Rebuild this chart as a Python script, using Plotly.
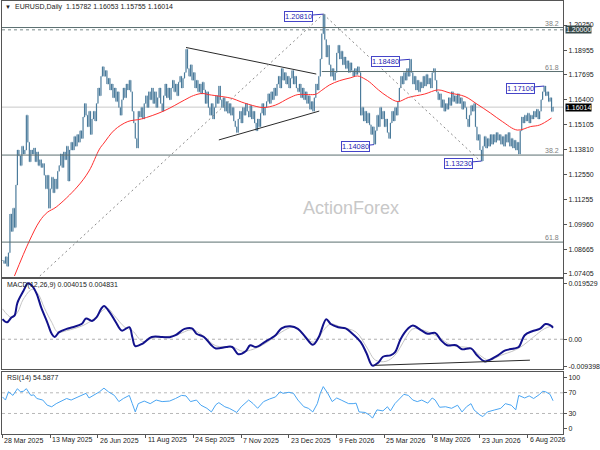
import plotly.graph_objects as go
from plotly.subplots import make_subplots

# daily closes in 1/10000 units, bar 0 = 28 Mar 2025
closes_pips = [
    10810, 10795, 10830, 10780, 10850, 11050, 10960, 11080, 10980, 11200,
    11380, 11350, 11300, 11400, 11360, 11380, 11560, 11420, 11320, 11380,
    11360, 11390, 11320, 11370, 11300, 11330, 11290, 11310, 11250, 11180,
    11250, 11080, 11180, 11240, 11160, 11230, 11180, 11270, 11300, 11360,
    11290, 11370, 11330, 11400, 11220, 11380, 11420, 11380, 11450, 11400,
    11460, 11420, 11480, 11440, 11550, 11620, 11560, 11500, 11580, 11460,
    11540, 11580, 11530, 11620, 11700, 11660, 11760, 11810, 11760, 11790,
    11720, 11750, 11690, 11720, 11650, 11700, 11630, 11680, 11600, 11560,
    11640, 11700, 11650, 11720, 11690, 11740, 11680, 11580, 11520, 11440,
    11390, 11580, 11550, 11600, 11540, 11620, 11660, 11600, 11680, 11640,
    11700, 11620, 11680, 11600, 11650, 11700, 11620, 11580, 11660, 11720,
    11650, 11700, 11640, 11700, 11740, 11680, 11720, 11660, 11730, 11760,
    11700, 11750, 11780, 11900, 11800, 11760, 11820, 11740, 11780, 11700,
    11740, 11680, 11720, 11670, 11730, 11690, 11620, 11680, 11600, 11560,
    11620, 11540, 11600, 11660, 11620, 11710, 11640, 11600, 11650, 11580,
    11630, 11570, 11620, 11560, 11600, 11530, 11500, 11470, 11540, 11580,
    11520, 11600, 11560, 11620, 11580, 11550, 11610, 11540, 11580, 11520,
    11480, 11540, 11500, 11570, 11620, 11560, 11600, 11630, 11670, 11620,
    11680, 11640, 11700, 11660, 11720, 11760, 11700, 11800, 11740, 11780,
    11720, 11760, 11700, 11750, 11790, 11720, 11760, 11700, 11680, 11720,
    11650, 11700, 11640, 11680, 11620, 11660, 11590, 11630, 11580, 11650,
    11720, 11690, 11760, 11850, 11980, 12080, 11950, 11860, 11920, 11820,
    11760, 11800, 11740, 11780, 11880, 11920, 11850, 11890, 11820, 11860,
    11800, 11840, 11780, 11830, 11790, 11760, 11800, 11770, 11810, 11780,
    11560, 11600, 11530, 11580, 11520, 11570, 11510, 11460, 11500, 11410,
    11480, 11560, 11500, 11600, 11540, 11580, 11500, 11540, 11470, 11440,
    11520, 11580, 11530, 11600, 11560, 11630, 11700, 11760, 11720, 11780,
    11740, 11800, 11760, 11848, 11780, 11720, 11760, 11690, 11740, 11680,
    11730, 11700, 11760, 11710, 11770, 11720, 11750, 11700, 11780, 11800,
    11740, 11680, 11640, 11670, 11600, 11640, 11580, 11620, 11590, 11650,
    11610, 11680, 11630, 11660, 11620, 11670, 11620, 11650, 11590, 11630,
    11600, 11540, 11500, 11560, 11610, 11580, 11620, 11500, 11430, 11460,
    11380, 11323, 11400, 11450, 11390, 11440, 11400, 11460, 11410, 11460,
    11420, 11470, 11430, 11460, 11410, 11450, 11400, 11460, 11420, 11470,
    11400, 11440, 11390, 11430, 11380, 11420, 11360, 11480, 11550, 11520,
    11560, 11530, 11570, 11520, 11560, 11540, 11580, 11550, 11590, 11540,
    11580, 11640, 11680, 11710, 11660, 11680, 11630, 11650, 11578.2, 11601.4,
]

ma_bars = [8, 18, 25, 30, 36, 50, 58, 65, 68, 75, 84, 93, 108, 122, 128, 134, 138,
           147, 154, 160, 170, 175, 183, 192, 198, 205, 210, 214, 219, 226, 233,
           238, 243, 246, 252, 258, 265, 272, 283, 292, 300, 310, 318, 327, 335,
           345, 354, 360, 368]
ma_vals = [1.0730, 1.0911, 1.1014, 1.1058, 1.1086, 1.1189, 1.1272, 1.1385, 1.1416,
           1.1483, 1.1527, 1.1540, 1.1581, 1.1638, 1.1661, 1.1672, 1.1666, 1.1656,
           1.1646, 1.1628, 1.1605, 1.1599, 1.1612, 1.1648, 1.1666, 1.1666, 1.1668,
           1.1688, 1.1715, 1.1738, 1.1752, 1.1762, 1.1746, 1.1731, 1.1690, 1.1656,
           1.1630, 1.1651, 1.1669, 1.1690, 1.1674, 1.1656, 1.1617, 1.1571, 1.1527,
           1.1483, 1.1501, 1.1509, 1.1545]

macd_bars = [0, 3, 6, 8, 10, 14, 17, 20, 23, 26, 30, 33, 35, 38, 43, 47, 53, 56, 60,
             63, 66, 68, 72, 76, 80, 85, 87, 89, 94, 100, 107, 112, 116, 122, 127,
             130, 135, 140, 143, 150, 154, 158, 163, 166, 170, 176, 183, 187, 193,
             198, 203, 208, 212, 217, 220, 225, 230, 234, 240, 244, 248, 252, 255,
             260, 263, 267, 272, 275, 281, 285, 290, 294, 298, 304, 308, 314, 318,
             323, 326, 332, 337, 343, 346, 350, 355, 360, 364, 367, 369]
macd_vals = [0.0070, 0.0059, 0.0076, 0.0082, 0.0127, 0.0168, 0.0195, 0.0185, 0.0157,
             0.0110, 0.0059, 0.0019, 0.0008, 0.0025, 0.0036, 0.0042, 0.0053, 0.0072,
             0.0064, 0.0076, 0.0105, 0.0116, 0.0093, 0.0059, 0.0030, 0.0042, 0.0008,
             -0.0024, -0.0015, 0.0008, 0.0008, 0.0007, 0.0014, 0.0036, 0.0038,
             0.0019, 0.0008, -0.0021, -0.0032, -0.0027, -0.0027, -0.0052, -0.0042,
             -0.0021, -0.0027, -0.0009, 0.0014, 0.0038, 0.0045, 0.0036, 0.0008,
             -0.0019, 0.0008, 0.0070, 0.0053, 0.0042, 0.0038, 0.0022, -0.0009,
             -0.0049, -0.0092, -0.0081, -0.0061, -0.0056, -0.0046, 0.0002, 0.0038,
             0.0048, 0.0030, 0.0019, 0.0022, -0.0004, -0.0021, -0.0021, -0.0035,
             -0.0032, -0.0056, -0.0077, -0.0073, -0.0056, -0.0039, -0.0032, -0.0027,
             0.0014, 0.0028, 0.0036, 0.0053, 0.0049, 0.0040]

sig_bars = [0, 6, 10, 14, 20, 24, 28, 33, 37, 43, 54, 61, 70, 75, 82, 87, 94, 100,
            116, 127, 134, 143, 154, 161, 168, 176, 187, 194, 198, 205, 210, 215,
            220, 227, 237, 244, 250, 257, 263, 270, 275, 283, 292, 301, 314, 320,
            326, 334, 343, 349, 356, 363, 369]
sig_vals = [0.0106, 0.0076, 0.0093, 0.0140, 0.0174, 0.0157, 0.0110, 0.0059, 0.0025,
            0.0030, 0.0048, 0.0070, 0.0108, 0.0082, 0.0042, 0.0030, -0.0008, 0.0003,
            0.0014, 0.0033, 0.0014, -0.0023, -0.0027, -0.0042, -0.0035, -0.0015,
            0.0025, 0.0042, 0.0036, -0.0004, -0.0009, 0.0030, 0.0053, 0.0042, 0.0025,
            -0.0027, -0.0073, -0.0077, -0.0056, 0.0002, 0.0036, 0.0030, 0.0008,
            -0.0021, -0.0032, -0.0056, -0.0073, -0.0056, -0.0039, -0.0021, 0.0008,
            0.0036, 0.0048]

rsi_bars = [0, 2, 4, 7, 10, 12, 14, 16, 19, 21, 23, 27, 30, 33, 36, 39, 43, 46, 49,
            53, 56, 58, 61, 65, 68, 71, 75, 78, 81, 85, 87, 89, 91, 95, 99, 103, 107,
            112, 116, 120, 123, 126, 130, 133, 137, 140, 143, 145, 149, 152, 157,
            160, 165, 168, 171, 175, 179, 183, 186, 188, 192, 195, 198, 202, 205,
            208, 211, 213, 215, 218, 221, 224, 227, 232, 235, 237, 239, 243, 246,
            248, 251, 255, 258, 260, 263, 266, 269, 272, 275, 278, 281, 285, 288,
            290, 293, 297, 301, 305, 308, 311, 314, 316, 320, 322, 325, 330, 334,
            337, 341, 344, 346, 350, 353, 356, 360, 362, 364, 367, 369]
rsi_vals = [62, 56, 72, 65, 78, 72, 73, 78, 65, 66, 59, 56, 46, 43, 49, 53, 59, 56,
            60, 65, 69, 60, 65, 72, 79, 72, 65, 53, 59, 65, 49, 33, 49, 54, 49, 56,
            53, 54, 59, 65, 64, 53, 56, 46, 40, 33, 47, 51, 43, 40, 32, 43, 56, 49,
            40, 53, 58, 62, 72, 69, 71, 69, 56, 43, 40, 33, 49, 69, 82, 69, 53, 60,
            56, 49, 49, 50, 33, 32, 27, 21, 37, 35, 43, 35, 49, 58, 67, 65, 56, 53,
            56, 50, 60, 56, 42, 43, 40, 46, 33, 43, 49, 37, 27, 24, 33, 37, 40, 49,
            46, 37, 65, 60, 64, 59, 67, 73, 72, 67, 54.6]

date_bars = [0, 32, 64, 96, 128, 160, 192, 224, 256, 288, 320, 352]
date_labels = ["28 Mar 2025", "13 May 2025", "26 Jun 2025", "11 Aug 2025",
               "24 Sep 2025", "7 Nov 2025", "23 Dec 2025", "9 Feb 2026",
               "25 Mar 2026", "8 May 2026", "23 Jun 2026", "6 Aug 2026"]

price_ticks = [1.20250, 1.18955, 1.17695, 1.16400, 1.15105, 1.13810, 1.12550,
               1.11255, 1.09960, 1.08665, 1.07405]

# swing labels
box_bars = [215, 273, 249, 321, 363]
box_prices = [1.2081, 1.1848, 1.1408, 1.1323, 1.1710]
box_shift = [-25, -24, -19, -23, -24]

# fibonacci levels: (price, first bar, label)
fib_levels = [(1.2012, None, "38.2"), (1.1785, 214, "61.8"),
              (1.1354, None, "38.2"), (1.0905, None, "61.8")]
round_level = 1.2000
last_price = 1.16014

# hand drawn lines (bar, price, bar, price)
solid_lines = [(123, 1.1909, 210.3, 1.1772), (145, 1.1432, 212.3, 1.1581)]
dashed_lines = [(25, 1.0730, 215, 1.2081), (215, 1.2081, 320.3, 1.1323)]
macd_line = (249.5, -0.0091, 353.5, -0.0073)

closes = [c / 10000 for c in closes_pips]
bars = list(range(len(closes)))
opens = [closes[0]] + closes[:-1]
highs = [max(o, c) for o, c in zip(opens, closes)]
lows = [min(o, c) for o, c in zip(opens, closes)]

FONT = "Liberation Sans, Arial, sans-serif"
FS = 7
BAR_COL = "#4b7b9b"
LEVEL_COL = "#5b6f70"
XR = [-0.33, 375.67]

fig = make_subplots(rows=3, cols=1, shared_xaxes=True, vertical_spacing=0)

fig.add_trace(go.Ohlc(x=bars, open=opens, high=highs, low=lows, close=closes,
                      increasing_line_color=BAR_COL, decreasing_line_color=BAR_COL,
                      line_width=1.2, tickwidth=0.2, hoverinfo="skip"), row=1, col=1)
fig.add_trace(go.Scatter(x=ma_bars, y=ma_vals, mode="lines", line_shape="spline",
                         line=dict(color="#ff3030", width=1)), row=1, col=1)

fig.add_trace(go.Scatter(x=sig_bars, y=sig_vals, mode="lines", line_shape="spline",
                         line=dict(color="#c4c4c4", width=1)), row=2, col=1)
fig.add_trace(go.Scatter(x=macd_bars, y=macd_vals, mode="lines", line_shape="spline",
                         line=dict(color="#12128c", width=2)), row=2, col=1)

fig.add_trace(go.Scatter(x=rsi_bars, y=rsi_vals, mode="lines",
                         line=dict(color="#4aa5f2", width=1)), row=3, col=1)

shapes = []
for price, start, _ in fib_levels:
    if start is None:
        shapes.append(dict(type="line", xref="x domain", yref="y", x0=0, x1=1,
                           y0=price, y1=price, line=dict(color=LEVEL_COL, width=1)))
    else:
        shapes.append(dict(type="line", xref="x", yref="y", x0=start, x1=XR[1],
                           y0=price, y1=price, line=dict(color=LEVEL_COL, width=1)))
shapes.append(dict(type="line", xref="x domain", yref="y", x0=0, x1=1,
                   y0=round_level, y1=round_level,
                   line=dict(color="#7a8a8a", width=1, dash="dot")))
shapes.append(dict(type="line", xref="x domain", yref="y", x0=0, x1=1,
                   y0=last_price, y1=last_price, line=dict(color="#c8c8c8", width=1),
                   layer="below"))
for x0, y0, x1, y1 in solid_lines:
    shapes.append(dict(type="line", xref="x", yref="y", x0=x0, y0=y0, x1=x1, y1=y1,
                       line=dict(color="#2a2a2a", width=1)))
for x0, y0, x1, y1 in dashed_lines:
    shapes.append(dict(type="line", xref="x", yref="y", x0=x0, y0=y0, x1=x1, y1=y1,
                       line=dict(color="#8a8a8a", width=1, dash="2px,3px")))
x0, y0, x1, y1 = macd_line
shapes.append(dict(type="line", xref="x2", yref="y2", x0=x0, y0=y0, x1=x1, y1=y1,
                   line=dict(color="#2a2a2a", width=1)))
shapes.append(dict(type="line", xref="x2 domain", yref="y2", x0=0, x1=1, y0=0, y1=0,
                   line=dict(color="#b0b0b0", width=1, dash="dot"), layer="below"))
for lv in [70, 30]:
    shapes.append(dict(type="line", xref="x3 domain", yref="y3", x0=0, x1=1,
                       y0=lv, y1=lv, line=dict(color="#b8b8b8", width=1, dash="dot"),
                       layer="below"))

ann = []
ann.append(dict(text="▼", xref="paper", yref="paper", x=0.001, y=0.984,
                xanchor="left", yanchor="middle", showarrow=False,
                font=dict(size=6, color="#222")))
ann.append(dict(text="EURUSD,Daily  1.15782 1.16053 1.15755 1.16014", xref="paper",
                yref="paper", x=0.0195, y=0.984, xanchor="left", yanchor="middle",
                showarrow=False, font=dict(size=FS, color="#222")))
ann.append(dict(text="MACD(12,26,9) 0.004015 0.004831", xref="paper", yref="paper",
                x=0.005, y=0.346, xanchor="left", yanchor="middle", showarrow=False,
                font=dict(size=FS, color="#222")))
ann.append(dict(text="RSI(14) 54.5877", xref="paper", yref="paper", x=0.005,
                y=0.1335, xanchor="left", yanchor="middle", showarrow=False,
                font=dict(size=FS, color="#222")))
ann.append(dict(text="ActionForex", xref="paper", yref="paper", x=0.6223, y=0.523,
                xanchor="center", yanchor="middle", showarrow=False,
                font=dict(size=18, color="#c8c8c8")))

for b, p, s in zip(box_bars, box_prices, box_shift):
    ann.append(dict(text="%.5f" % p, x=b, y=p, xref="x", yref="y", ax=s, ay=2,
                    showarrow=True, arrowhead=0, arrowwidth=1, arrowcolor="#3535c0",
                    bordercolor="#4545c8", borderwidth=1, borderpad=0,
                    bgcolor="white", font=dict(size=7.5, color="#2626b0")))

for price, _, lab in fib_levels:
    ann.append(dict(text=lab, xref="paper", yref="y", x=0.997, y=price,
                    xanchor="right", yanchor="bottom", showarrow=False, yshift=-1,
                    font=dict(size=7, color="#808080")))

ann.append(dict(text="1.20000", xref="paper", yref="y", x=1, y=round_level,
                xanchor="left", yanchor="middle", xshift=2, showarrow=False,
                bgcolor="#364848", borderpad=0, font=dict(size=FS, color="white")))
ann.append(dict(text="1.16014", xref="paper", yref="y", x=1, y=last_price,
                xanchor="left", yanchor="middle", xshift=2, showarrow=False,
                bgcolor="black", borderpad=0, font=dict(size=FS, color="white")))

for b, lab in zip(date_bars, date_labels):
    ann.append(dict(text=lab, x=b, xref="x3", yref="paper", y=0, yshift=-4,
                    xanchor="left", yanchor="middle", showarrow=False,
                    font=dict(size=FS, color="#222")))

axis_common = dict(showgrid=False, zeroline=False, showline=True, mirror=True,
                   linecolor="#555555", linewidth=1)

fig.update_layout(
    width=600, height=450,
    margin=dict(l=2, r=34, t=0, b=14),
    paper_bgcolor="white", plot_bgcolor="white",
    showlegend=False,
    font=dict(family=FONT, size=FS, color="#222"),
    shapes=shapes, annotations=ann,
    xaxis=dict(range=XR, showticklabels=False, ticks="", rangeslider_visible=False,
               **axis_common),
    xaxis2=dict(range=XR, showticklabels=False, ticks="", matches="x", **axis_common),
    xaxis3=dict(range=XR, showticklabels=False, ticks="outside", ticklen=3,
                tickcolor="#555", tickvals=date_bars, matches="x", **axis_common),
    yaxis=dict(domain=[0.3658, 0.9977], range=[1.07275, 1.21488], side="right",
               tickvals=price_ticks, ticktext=["%.5f" % t for t in price_ticks],
               ticks="outside", ticklen=3, tickcolor="#555", **axis_common),
    yaxis2=dict(domain=[0.1548, 0.3601], range=[-0.0102, 0.0210], side="right",
                tickvals=[0.019529, 0.0, -0.009398],
                ticktext=["0.019529", "0.00", "-0.009398"],
                ticks="outside", ticklen=3, tickcolor="#555", **axis_common),
    yaxis3=dict(domain=[0.0046, 0.1479], range=[-9.7, 111.2], side="right",
                tickvals=[100, 70, 30, 0], ticks="outside", ticklen=3,
                tickcolor="#555", **axis_common),
)

fig.write_html("out.html", config={"displayModeBar": False},
               post_script="document.body.style.margin='0px';")
